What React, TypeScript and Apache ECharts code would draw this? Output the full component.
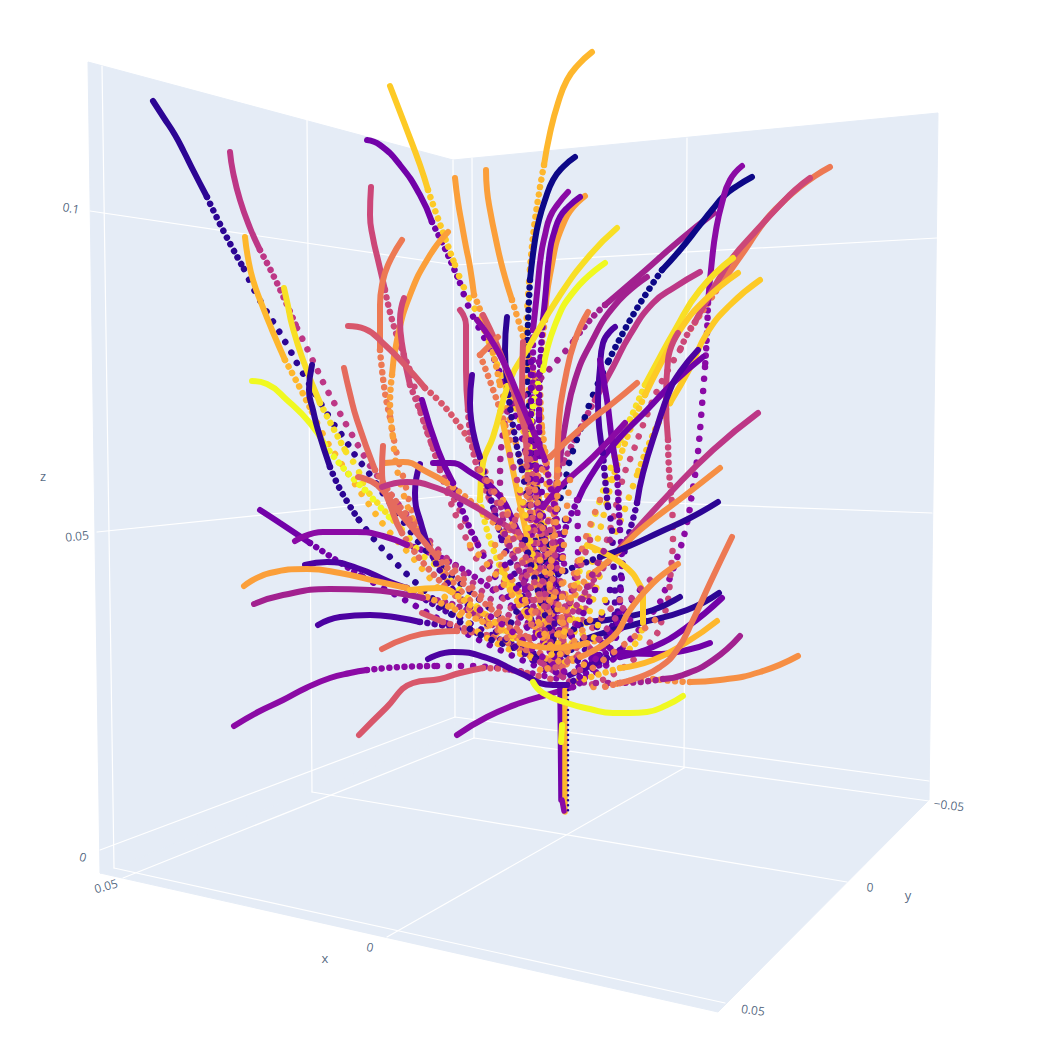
import React, { useEffect, useRef } from "react";
import * as echarts from "echarts";

type P = [number, number];
type Trace = [number, P[], P[]];

const plasma = ["#0d0887","#2c0594","#4c02a1","#7201a8","#8b0aa5","#a2218f","#bd3786","#cc4778","#d8576b","#e56b5d","#ed7953","#f68f44","#fb9f3a","#feb72d","#fdca26","#f8df25","#f0f921"];

const panes: P[][] = [
  [[88,62],[453,160],[455,735],[100,873]],
  [[453,160],[938,113],[929,800],[455,735]],
  [[100,873],[455,735],[929,800],[718,1012]],
];
const gridLines: P[][] = [
  [[102,66],[114,868]], [[307,120],[312,792]], [[453,160],[455,717]],
  [[472,158],[474,738]], [[687,138],[684,768]],
  [[90,211],[455,265],[937,238]],
  [[97,532],[455,495],[932,513]],
  [[100,850],[455,717],[929,781]],
  [[114,868],[725,1003]], [[312,792],[847,882]], [[474,738],[929,801]],
  [[123,878],[474,738]], [[387,937],[684,768]],
];
const tickLabels: [number, number, string, number][] = [
  [71,208,"0.1",-10],[77,536,"0.05",6],[83,857,"0",-15],
  [106,886,"0.05",16],[370,947,"0",-12],
  [949,805,"−0.05",-7],[870,887,"0",-5],[753,1010,"0.05",-7],
];
const axisTitles: [number, number, string][] = [[43,476,"z"],[325,958,"x"],[908,895,"y"]];

const t01: Trace = [1,[[153,101],[164,118],[175,135],[184,152],[193,170],[207,197]],[[207,197],[224,232],[244,269],[258,297],[277,328],[291,352],[298,365],[333,423],[344,438],[355,455],[368,472],[395,510],[430,555],[480,600],[530,640]]];
const t02: Trace = [6,[[230,152],[233,172],[240,200],[250,228],[260,250]],[[260,250],[277,283],[297,328],[315,365],[325,386],[337,408],[351,433],[366,459],[375,473],[420,530],[470,580],[520,625]]];
const t03: Trace = [13,[[245,237],[248,258],[253,280],[262,305],[272,330],[285,360]],[[285,360],[300,388],[312,412],[325,438],[337,457],[351,478],[368,503],[387,529],[412,557],[433,582],[465,620],[500,645],[540,660]]];
const t04: Trace = [15,[[284,288],[288,306],[292,325],[303,360],[320,403]],[[320,403],[330,422],[346,452],[357,468],[365,487],[382,508],[405,533],[422,555],[433,563],[470,600],[515,640]]];
const t05: Trace = [16,[[252,381],[267,384],[287,400],[310,423],[325,445]],[[325,445],[345,470],[365,490],[390,518]]];
const t06: Trace = [1,[[312,365],[309,390],[313,410],[318,430],[330,467]],[[330,467],[341,491],[359,520],[373,538],[391,558],[414,581],[445,609],[477,633],[520,650],[555,665]]];
const t07: Trace = [3,[[367,140],[380,145],[400,165],[420,195],[432,222]],[[432,222],[447,253],[460,283],[470,310],[490,350],[510,400],[525,450],[540,520],[560,600]]];
const t08: Trace = [14,[[390,86],[405,125],[420,165],[428,190]],[[428,190],[436,213],[455,265],[465,290],[480,320],[505,385],[520,420],[535,480],[550,560],[565,650]]];
const t09: Trace = [7,[[371,187],[370,215],[373,238],[378,260],[385,290]],[[385,290],[395,330],[412,375],[430,440],[470,530],[510,590],[545,640]]];
const t10: Trace = [10,[[402,240],[388,265],[382,285],[380,305],[380,350]],[[380,350],[385,393],[390,417],[397,455],[402,473],[420,530],[460,590],[520,640]]];
const t11: Trace = [12,[[448,232],[430,255],[410,295],[397,340],[392,375]],[[392,375],[390,403],[393,437],[403,493],[430,550],[470,610],[530,655]]];
const t12: Trace = [7,[[404,298],[400,320],[403,350],[410,385]],[[410,385],[425,425],[440,470],[460,525],[490,580],[530,630]]];
const t13: Trace = [8,[[348,326],[365,329],[385,345],[405,365],[425,388]],[[425,388],[450,413],[475,450],[505,510],[540,570],[570,640]]];
const t14: Trace = [9,[[344,368],[350,394],[357,420],[375,470]],[[375,470],[395,500],[430,545],[480,595],[530,640]]];
const t15: Trace = [12,[[455,178],[458,202],[462,225],[466,247],[470,267],[474,295]],[[474,295],[487,330],[500,385],[515,440],[535,520],[555,610]]];
const t16: Trace = [12,[[486,170],[487,190],[490,210],[496,240],[503,270],[512,300]],[[512,300],[522,333],[535,380],[545,450],[555,530],[570,620]]];
const t17: Trace = [13,[[592,52],[578,65],[567,80],[558,103],[550,133],[544,165]],[[544,165],[535,220],[530,270],[527,313],[526,337],[528,380],[532,430],[540,510],[550,590]]];
const t18: Trace = [0,[[575,157],[563,167],[553,180],[545,200],[539,220],[535,240],[530,280]],[[530,280],[528,325],[527,370],[530,420],[537,490],[545,560],[555,640]]];
const t19: Trace = [12,[[585,196],[565,220],[550,275],[545,320]],[[545,320],[540,380],[545,460],[550,540]]];
const t20: Trace = [4,[[568,192],[558,204],[550,217],[545,235],[541,255],[537,293],[533,330]],[[533,330],[533,370],[532,410],[537,480],[545,550],[555,620]]];
const t21: Trace = [3,[[580,197],[568,207],[560,217],[554,233],[550,250],[545,300],[543,320]],[[543,320],[540,370],[539,420],[541,480],[548,560],[565,640]]];
const t22: Trace = [15,[[617,228],[590,255],[560,295],[527,350],[510,380],[493,437],[483,463],[480,500]],[[480,500],[490,540],[510,590]]];
const t23: Trace = [16,[[605,263],[575,290],[555,325],[543,370]],[[543,370],[535,395],[530,435],[528,500],[540,570]]];
const t24: Trace = [5,[[714,213],[680,240],[640,275],[605,305]],[[605,305],[590,320],[573,342],[555,363],[530,390],[505,420],[500,490],[530,590]]];
const t25: Trace = [5,[[647,277],[615,305],[590,345],[575,380],[566,420],[560,460]],[[560,460],[555,510],[555,570],[560,640]]];
const t26: Trace = [6,[[700,272],[675,287],[653,303],[630,335],[613,367],[595,400]],[[595,400],[583,423],[563,463],[550,510],[545,570],[555,640]]];
const t27: Trace = [0,[[752,177],[737,186],[725,195],[712,210],[700,225],[680,250],[662,270]],[[662,270],[633,315],[608,362],[593,395],[585,417],[570,460],[567,473],[550,543],[545,590],[555,660]]];
const t28: Trace = [4,[[742,166],[730,180],[722,203],[716,230],[712,260],[708,303]],[[708,303],[707,333],[705,367],[701,418],[699,442],[696,468],[692,494],[687,523],[679,552],[663,595],[656,608],[627,643],[600,670],[575,680]]];
const t29: Trace = [10,[[830,167],[815,176],[800,187],[785,200],[770,215],[757,232],[745,250],[720,285]],[[720,285],[700,315],[690,330]]];
const t30: Trace = [7,[[810,178],[795,190],[780,205],[755,232],[733,257],[720,277],[707,300],[695,322]],[[695,322],[688,333],[680,350],[660,385],[645,420],[633,452],[623,478],[610,530],[595,575],[580,630]]];
const t31: Trace = [15,[[733,258],[700,290],[675,330],[653,370],[645,385]],[[645,385],[632,415],[618,445],[610,470],[598,506],[588,537],[578,580],[570,640]]];
const t32: Trace = [14,[[738,273],[705,300],[680,330],[660,365],[645,395]],[[645,395],[630,430],[612,480],[600,530],[585,590],[570,650]]];
const t33: Trace = [14,[[760,280],[730,305],[707,333],[690,368],[670,403]],[[670,403],[655,430],[637,475],[628,500],[622,517],[605,560],[590,610],[575,660]]];
const t34: Trace = [7,[[678,333],[668,360],[666,400],[668,440]],[[668,440],[669,470],[672,503],[673,540],[672,557],[670,580],[668,600],[662,620],[653,639],[620,670],[590,685]]];
const t35: Trace = [3,[[703,357],[673,383],[647,410],[615,443],[590,477],[578,500]],[[578,500],[565,530],[555,570],[555,620]]];
const t36: Trace = [2,[[698,350],[680,372],[670,390],[657,427],[643,473],[637,503]],[[637,503],[632,523],[627,540],[622,567],[618,610],[610,640],[590,665]]];
const t37: Trace = [2,[[615,327],[603,343],[600,368],[598,403],[603,453]],[[603,453],[605,478],[608,507],[612,530],[613,557],[615,593],[615,607],[605,640],[585,665]]];
const t38: Trace = [3,[[600,360],[607,400],[612,440],[617,470]],[[617,470],[618,493],[620,530],[622,567],[620,600],[618,630],[605,655]]];
const t39: Trace = [10,[[588,312],[575,340],[565,380],[559,420],[557,477]],[[557,477],[553,530],[550,590],[555,650]]];
const t40: Trace = [8,[[523,342],[522,400],[525,427],[527,460]],[[527,460],[530,510],[535,560],[545,630]]];
const t41: Trace = [1,[[507,317],[505,350],[507,380]],[[507,380],[512,420],[522,470],[535,540],[550,620]]];
const t42: Trace = [7,[[460,310],[466,325],[466,370],[468,410]],[[468,410],[475,460],[490,500],[510,550],[540,620]]];
const t43: Trace = [8,[[483,315],[497,345],[510,380],[525,430]],[[525,430],[535,490],[545,560]]];
const t44: Trace = [10,[[498,337],[490,345],[480,355]],[[480,355],[495,395],[510,440]]];
const t45: Trace = [4,[[477,320],[500,355],[520,400],[545,460]],[[545,460],[555,510],[565,570]]];
const t46: Trace = [3,[[422,400],[438,450],[453,483]],[[453,483],[465,517],[478,545],[493,573],[510,600],[535,640]]];
const t47: Trace = [2,[[472,375],[470,403],[480,457]],[[480,457],[492,503],[502,540],[515,575],[535,630]]];
const t48: Trace = [2,[[420,464],[415,493],[422,527],[430,550]],[[430,550],[447,582],[470,607],[500,635],[535,660]]];
const t49: Trace = [3,[[433,463],[450,463],[470,472],[497,493],[515,525],[530,560],[545,600]],[[545,600],[555,640],[565,675]]];
const t50: Trace = [11,[[385,463],[403,462],[427,472],[447,483]],[[447,483],[475,505],[510,540],[540,590]]];
const t51: Trace = [9,[[383,446],[382,470],[393,513],[402,533]],[[402,533],[425,565],[460,600],[510,640]]];
const t52: Trace = [9,[[358,477],[377,485],[400,513],[420,537],[437,557]],[[437,557],[470,590],[510,625],[545,650]]];
const t53: Trace = [3,[[260,510],[280,523],[310,543]],[[310,543],[336,560],[363,577],[405,600],[450,625],[500,650],[545,670]]];
const t54: Trace = [4,[[295,541],[323,532],[357,532],[383,536],[407,545]],[[407,545],[450,562],[493,590],[530,625],[555,660]]];
const t55: Trace = [2,[[305,565],[327,562],[357,568],[390,582],[407,588]],[[407,588],[438,607],[460,618],[500,640],[540,665]]];
const t56: Trace = [6,[[382,487],[407,482],[437,488],[463,500],[497,520],[523,537]],[[523,537],[545,570],[560,620]]];
const t57: Trace = [12,[[244,586],[270,573],[307,569],[340,573],[380,582],[407,588]],[[407,588],[445,605],[490,625],[530,645]]];
const t58: Trace = [13,[[410,590],[440,588],[452,592]],[[452,592],[485,615],[520,640]]];
const t59: Trace = [5,[[254,604],[283,595],[330,589],[370,590],[397,593],[423,598]],[[423,598],[460,607],[500,630],[545,660]]];
const t60: Trace = [2,[[318,625],[340,617],[370,615],[400,618],[420,622]],[[420,622],[457,628],[477,633],[515,645],[555,665]]];
const t61: Trace = [9,[[382,649],[410,637],[437,632],[457,631]],[[457,631],[490,636],[520,650],[550,668]]];
const t62: Trace = [8,[[422,613],[443,622]],[[443,622],[470,630],[500,640]]];
const t63: Trace = [4,[[234,726],[258,712],[283,700],[306,688],[330,678],[350,673],[367,670]],[[367,670],[400,667],[437,666],[463,666],[487,667],[513,670],[540,675],[563,680]]];
const t64: Trace = [8,[[359,735],[386,708],[413,683],[440,679],[460,673],[483,668]],[[483,668],[503,669],[527,673],[555,680]]];
const t65: Trace = [11,[[798,656],[760,672],[720,680],[690,682]],[[690,682],[673,681],[653,679],[635,680],[620,683],[607,686],[590,687]]];
const t66: Trace = [5,[[740,636],[713,660],[683,675],[663,679]],[[663,679],[640,682],[620,683],[600,683],[575,682]]];
const t67: Trace = [3,[[710,643],[687,650],[653,654],[613,652]],[[613,652],[595,657],[575,670]]];
const t68: Trace = [13,[[717,621],[687,642],[653,660],[620,668]],[[620,668],[597,675],[575,682]]];
const t69: Trace = [3,[[722,598],[687,627],[653,647],[620,657]],[[620,657],[600,665],[578,678]]];
const t70: Trace = [1,[[719,593],[687,610],[640,623],[603,633],[583,640]],[[583,640],[565,655],[550,668]]];
const t71: Trace = [1,[[680,597],[653,610],[620,618],[587,622]],[[587,622],[565,635],[550,650]]];
const t72: Trace = [10,[[732,537],[710,583],[693,620],[677,650],[660,667],[640,677],[620,683]],[[620,683],[600,688]]];
const t73: Trace = [6,[[758,413],[713,450],[670,493],[627,540],[613,557]],[[613,557],[590,585],[565,625],[555,660]]];
const t74: Trace = [11,[[720,468],[683,497],[640,530],[613,557],[595,572]],[[595,572],[583,583],[565,610],[555,650]]];
const t75: Trace = [1,[[718,502],[690,518],[660,532],[627,547],[600,557]],[[600,557],[563,572],[527,590],[510,625]]];
const t76: Trace = [10,[[637,383],[613,403],[587,423],[550,457]],[[550,457],[530,490],[510,530],[500,570]]];
const t77: Trace = [4,[[625,423],[593,457],[560,487],[543,507]],[[543,507],[530,540],[525,590],[535,640]]];
const t78: Trace = [14,[[587,545],[610,556],[627,568],[638,582],[643,597],[643,623]],[[643,623],[638,640],[625,652]]];
const t79: Trace = [14,[[502,570],[520,597]],[[520,597],[535,630]]];
const t80: Trace = [13,[[503,423],[517,490],[530,550]],[[530,550],[540,600],[550,640]]];
const t81: Trace = [12,[[520,643],[553,648],[587,643]],[[587,643],[600,640]]];
const t82: Trace = [11,[[678,564],[653,583],[630,610],[613,637],[580,657]],[[580,657],[565,665]]];
const t83: Trace = [2,[[428,659],[453,652],[487,658],[520,673],[553,685],[567,685]],[[567,685],[575,680]]];
const t84: Trace = [2,[[570,675],[607,658]],[[607,658],[620,650]]];
const t85: Trace = [6,[[540,662],[563,677]],[[563,677],[570,682]]];
const t86: Trace = [4,[[457,735],[487,717],[520,703],[553,693],[573,687]],[[573,687],[585,680]]];
const t87: Trace = [16,[[533,682],[543,693],[567,703],[590,709],[613,713],[630,713],[647,712],[667,705],[683,696]],[[533,682],[533,682]]];

const traces: Trace[] = [t53,t54,t55,t59,t60,t61,t62,t63,t64,t01,t02,t03,t04,t05,t06,t07,t08,t09,t10,t11,t12,t13,t14,t15,t16,t17,t18,t19,t20,t21,t22,t23,t24,t25,t26,t27,t28,t29,t30,t31,t32,t33,t34,t35,t36,t37,t38,t39,t40,t41,t42,t43,t44,t45,t46,t47,t48,t49,t50,t51,t52,t56,t57,t58,t65,t66,t67,t68,t69,t70,t71,t73,t74,t75,t76,t77,t78,t79,t80,t84,t85,t86];
const frontTraces: Trace[] = [t83,t72,t82,t81,t87];

const coreStrands: [number, P[]][] = [
  [4,[[539,362],[539,420],[536,470],[540,540],[548,620]]],
  [3,[[531,362],[531,420],[530,480],[535,550]]],
  [8,[[525,440],[530,500],[540,560],[550,630]]],
  [11,[[558,470],[556,520],[550,580],[548,650]]],
  [12,[[503,500],[518,540],[535,590],[548,640]]],
  [7,[[485,480],[505,520],[525,570],[545,640]]],
  [9,[[480,470],[505,510],[530,560],[555,630]]],
  [11,[[495,545],[515,585],[540,625],[560,660]]],
  [6,[[510,455],[525,510],[540,570],[555,650]]],
  [12,[[470,545],[500,580],[530,620],[555,655]]],
  [4,[[577,500],[578,550],[570,600],[560,650]]],
  [2,[[565,520],[560,570],[555,620],[550,665]]],
  [10,[[600,500],[585,540],[570,590],[560,650]]],
  [7,[[590,540],[575,585],[565,630],[560,670]]],
  [5,[[610,540],[590,580],[575,625],[565,665]]],
  [12,[[580,560],[570,600],[555,640],[540,670]]],
  [3,[[595,590],[580,620],[565,650],[555,675]]],
  [8,[[620,600],[595,625],[575,650],[560,675]]],
  [14,[[520,490],[530,540],[538,590],[545,640]]],
  [13,[[510,590],[530,620],[550,650],[570,665]]],
  [9,[[500,620],[525,640],[550,660],[575,672]]],
  [4,[[480,610],[510,630],[540,655],[570,675]]],
  [12,[[540,560],[555,600],[565,640],[575,665]]],
  [6,[[550,530],[560,580],[570,630],[580,670]]],
  [1,[[525,540],[535,580],[548,625],[560,660]]],
  [10,[[535,490],[545,540],[555,590],[568,640]]],
  [11,[[570,480],[565,530],[562,590],[565,650]]],
  [7,[[515,520],[530,570],[550,620]]],
  [5,[[495,510],[515,560],[535,610],[555,650]]],
  [3,[[505,565],[522,600],[540,635],[560,665]]],
  [12,[[525,600],[540,625],[555,650],[585,665]]],
  [8,[[600,640],[585,650],[570,660],[550,670]]],
  [13,[[570,620],[560,640],[548,660]]],
  [11,[[590,620],[575,640],[560,660],[540,672]]],
  [9,[[540,600],[530,630],[525,660]]],
  [2,[[610,590],[600,620],[585,650],[570,670]]],
  [3,[[640,590],[625,610],[605,640],[590,665]]],
  [4,[[630,620],[610,640],[595,660]]],
  [14,[[605,600],[598,625],[590,650]]],
  [6,[[650,580],[630,600],[610,625],[590,650]]],
  [10,[[655,620],[630,640],[610,655],[590,670]]],
];

const stem: [number, P[]][] = [
  [3,[[560,685],[561,800]]],
  [13,[[565,690],[565,812]]],
  [16,[[562,725],[561,742]]],
  [4,[[562,800],[564,811]]],
];
const stemDots: P[] = [[568,690],[568,812]];

const lineSeries = (data: P[], color: string, width: number, z: number, dash?: number[], smooth = 0.5) => ({
  type: "line", data, symbol: "none", silent: true, smooth, z, clip: false,
  lineStyle: { color, width, cap: "round", join: "round", type: dash ?? "solid" },
});

export default function App() {
  const ref = useRef<HTMLDivElement>(null);
  useEffect(() => {
    document.body.style.margin = "0";
    const chart = echarts.init(ref.current!, null, { renderer: "svg" });
    const series: any[] = [
      {
        type: "custom", silent: true, z: 0, clip: false, coordinateSystem: "cartesian2d",
        data: panes.map((_, i) => [i, 0]),
        renderItem: (params: any, api: any) => ({
          type: "polygon",
          shape: { points: panes[params.dataIndex].map((p) => api.coord(p)) },
          style: { fill: "#e5ecf6", stroke: "#e5ecf6", lineWidth: 1 },
        }),
      },
      ...gridLines.map((g) => lineSeries(g, "#ffffff", 1.2, 1, undefined, 0)),
    ];
    const all = [...traces, ...frontTraces];
    all.forEach(([c, , dotted]) => {
      series.push(lineSeries(dotted.slice(0, 3), plasma[c], 6.5, 2, [0.01, 7.5]));
      if (dotted.length > 2) series.push(lineSeries(dotted.slice(2), plasma[c], 6.5, 2, [0.01, 12]));
    });
    traces.forEach(([c, solid]) => {
      series.push(lineSeries(solid, plasma[c], 6, 3));
    });
    coreStrands.forEach(([c, d]) => series.push(lineSeries(d, plasma[c], 6.5, 4, [0.01, 13])));
    frontTraces.forEach(([c, solid]) => {
      series.push(lineSeries(solid, plasma[c], 6, 5));
    });
    stem.forEach(([c, d]) => series.push(lineSeries(d, plasma[c], c === 16 ? 6 : 5.5, 3, undefined, 0)));
    series.push(lineSeries(stemDots, plasma[1], 2.5, 3, [0.01, 5], 0));
    series.push({
      type: "scatter", symbolSize: 1, silent: true, z: 6, clip: false,
      itemStyle: { color: "rgba(0,0,0,0)" },
      data: tickLabels.map(([x, y, t, r]) => ({
        value: [x, y],
        label: { show: true, position: "inside", formatter: t, rotate: r, color: "#2a3f5f", fontSize: 12, fontFamily: "Open Sans" },
      })),
    });
    series.push({
      type: "scatter", symbolSize: 1, silent: true, z: 6, clip: false,
      itemStyle: { color: "rgba(0,0,0,0)" },
      data: axisTitles.map(([x, y, t]) => ({
        value: [x, y],
        label: { show: true, position: "inside", formatter: t, color: "#2a3f5f", fontSize: 13, fontFamily: "Open Sans" },
      })),
    });
    chart.setOption({
      animation: false,
      backgroundColor: "#fff",
      grid: { left: 0, top: 0, width: 1042, height: 1048 },
      xAxis: { type: "value", min: 0, max: 1042, show: false },
      yAxis: { type: "value", min: 0, max: 1048, inverse: true, show: false },
      series,
    });
    return () => chart.dispose();
  }, []);
  return <div ref={ref} style={{ position: "fixed", left: 0, top: 0, width: 1042, height: 1048 }} />;
}
